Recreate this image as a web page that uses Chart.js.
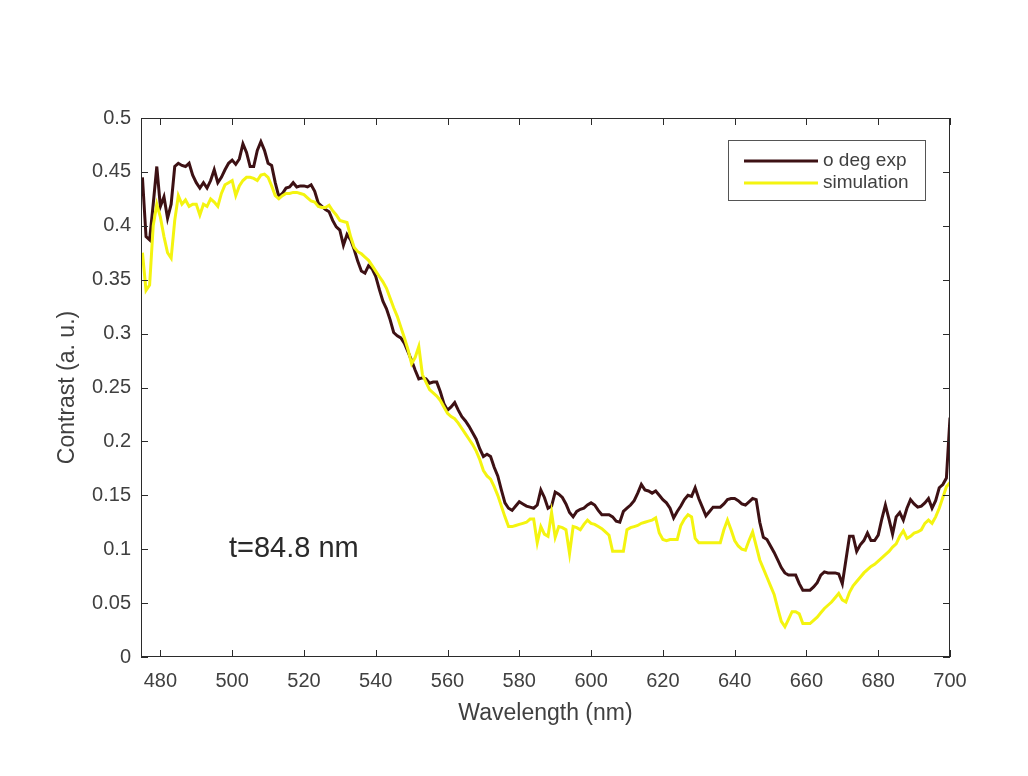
<!DOCTYPE html>
<html>
<head>
<meta charset="utf-8">
<script src="https://cdn.jsdelivr.net/npm/chart.js@4.4.1/dist/chart.umd.min.js"></script>
<style>
  html, body { margin: 0; padding: 0; background: #fff; }
  #wrap { position: relative; width: 1028px; height: 776px; }
</style>
</head>
<body>
<div id="wrap"><canvas id="c" width="1028" height="776"></canvas></div>
<script>
// wavelength grid (nm), 1 nm steps
const wavelengths = [
  475,476,477,478,479,480,481,482,483,484,
  485,486,487,488,489,490,491,492,493,494,
  495,496,497,498,499,500,501,502,503,504,
  505,506,507,508,509,510,511,512,513,514,
  515,516,517,518,519,520,521,522,523,524,
  525,526,527,528,529,530,531,532,533,534,
  535,536,537,538,539,540,541,542,543,544,
  545,546,547,548,549,550,551,552,553,554,
  555,556,557,558,559,560,561,562,563,564,
  565,566,567,568,569,570,571,572,573,574,
  575,576,577,578,579,580,581,582,583,584,
  585,586,587,588,589,590,591,592,593,594,
  595,596,597,598,599,600,601,602,603,604,
  605,606,607,608,609,610,611,612,613,614,
  615,616,617,618,619,620,621,622,623,624,
  625,626,627,628,629,630,631,632,633,634,
  635,636,637,638,639,640,641,642,643,644,
  645,646,647,648,649,650,651,652,653,654,
  655,656,657,658,659,660,661,662,663,664,
  665,666,667,668,669,670,671,672,673,674,
  675,676,677,678,679,680,681,682,683,684,
  685,686,687,688,689,690,691,692,693,694,
  695,696,697,698,699,700
];

// "o deg exp" measured contrast
const expContrast = [
  0.445,0.390,0.387,0.420,0.455,0.418,0.427,0.407,0.420,0.455,
  0.458,0.456,0.455,0.458,0.447,0.440,0.435,0.440,0.435,0.442,
  0.452,0.440,0.445,0.452,0.458,0.461,0.457,0.462,0.476,0.468,
  0.455,0.455,0.470,0.478,0.470,0.458,0.456,0.440,0.427,0.430,
  0.435,0.436,0.440,0.436,0.437,0.437,0.436,0.438,0.432,0.421,
  0.418,0.415,0.413,0.405,0.399,0.396,0.382,0.392,0.387,0.378,
  0.367,0.358,0.356,0.363,0.360,0.353,0.341,0.330,0.323,0.313,
  0.301,0.298,0.296,0.291,0.283,0.275,0.266,0.258,0.259,0.258,
  0.254,0.255,0.255,0.246,0.235,0.229,0.232,0.236,0.229,0.223,
  0.219,0.214,0.208,0.202,0.193,0.186,0.188,0.186,0.176,0.168,
  0.155,0.143,0.138,0.136,0.140,0.144,0.142,0.140,0.139,0.138,
  0.141,0.155,0.148,0.138,0.140,0.153,0.151,0.148,0.142,0.134,
  0.130,0.135,0.137,0.138,0.141,0.143,0.141,0.136,0.132,0.132,
  0.132,0.130,0.126,0.125,0.135,0.138,0.141,0.145,0.152,0.160,
  0.155,0.154,0.152,0.154,0.150,0.146,0.143,0.138,0.129,0.135,
  0.140,0.146,0.150,0.149,0.157,0.147,0.139,0.131,0.135,0.139,
  0.139,0.139,0.142,0.146,0.147,0.147,0.145,0.142,0.141,0.144,
  0.147,0.146,0.125,0.111,0.109,0.103,0.097,0.090,0.083,0.078,
  0.076,0.076,0.076,0.068,0.062,0.062,0.062,0.065,0.069,0.076,
  0.079,0.078,0.078,0.078,0.077,0.068,0.090,0.112,0.112,0.098,
  0.104,0.108,0.115,0.108,0.108,0.113,0.128,0.141,0.128,0.114,
  0.130,0.134,0.127,0.138,0.146,0.142,0.139,0.140,0.143,0.147,
  0.138,0.145,0.157,0.160,0.166,0.222
];

// simulated contrast
const simContrast = [
  0.375,0.340,0.345,0.400,0.420,0.408,0.390,0.375,0.370,0.405,
  0.428,0.420,0.424,0.418,0.420,0.420,0.410,0.420,0.418,0.425,
  0.422,0.418,0.430,0.438,0.440,0.442,0.428,0.437,0.442,0.445,
  0.445,0.444,0.442,0.447,0.448,0.445,0.437,0.428,0.425,0.428,
  0.430,0.430,0.431,0.431,0.430,0.429,0.426,0.423,0.422,0.418,
  0.417,0.417,0.419,0.414,0.410,0.405,0.404,0.403,0.390,0.380,
  0.376,0.374,0.371,0.368,0.363,0.358,0.353,0.348,0.342,0.333,
  0.324,0.316,0.306,0.296,0.285,0.272,0.278,0.288,0.262,0.255,
  0.248,0.245,0.242,0.238,0.232,0.226,0.223,0.221,0.217,0.212,
  0.207,0.202,0.197,0.191,0.183,0.173,0.168,0.165,0.158,0.150,
  0.140,0.130,0.121,0.121,0.122,0.123,0.124,0.125,0.128,0.128,
  0.106,0.121,0.114,0.112,0.134,0.111,0.121,0.120,0.118,0.096,
  0.121,0.120,0.118,0.123,0.127,0.124,0.123,0.121,0.119,0.116,
  0.113,0.098,0.098,0.098,0.098,0.118,0.120,0.121,0.122,0.124,
  0.125,0.126,0.127,0.129,0.115,0.109,0.108,0.109,0.109,0.109,
  0.122,0.128,0.132,0.130,0.110,0.106,0.106,0.106,0.106,0.106,
  0.106,0.106,0.118,0.127,0.118,0.108,0.103,0.100,0.099,0.108,
  0.116,0.103,0.090,0.082,0.074,0.066,0.058,0.045,0.033,0.028,
  0.035,0.042,0.042,0.040,0.031,0.031,0.031,0.034,0.037,0.041,
  0.045,0.048,0.051,0.055,0.059,0.053,0.051,0.060,0.066,0.070,
  0.074,0.078,0.081,0.084,0.086,0.089,0.092,0.095,0.098,0.102,
  0.105,0.112,0.117,0.110,0.112,0.115,0.116,0.118,0.124,0.127,
  0.124,0.130,0.138,0.148,0.158,0.162
];

const xTicks = [480, 500, 520, 540, 560, 580, 600, 620, 640, 660, 680, 700];
const yTicks = [0, 0.05, 0.1, 0.15, 0.2, 0.25, 0.3, 0.35, 0.4, 0.45, 0.5];
const yTickLabels = ["0", "0.05", "0.1", "0.15", "0.2", "0.25", "0.3", "0.35", "0.4", "0.45", "0.5"];

const FONT = "'Liberation Sans', Arial, sans-serif";
const TXT = "#404040";
const EXP_COLOR = "#3d1114";
const SIM_COLOR = "#f4f410";

// MATLAB-ish box with inward ticks, legend and the thickness note
const boxPlugin = {
  id: "box",
  afterDatasetsDraw(chart) {
    const { ctx, chartArea: a, scales } = chart;
    ctx.save();
    ctx.strokeStyle = "#2b2b2b";
    ctx.lineWidth = 1;
    ctx.strokeRect(a.left + 0.5, a.top + 0.5, a.right - a.left - 1, a.bottom - a.top - 1);
    ctx.beginPath();
    xTicks.forEach((v) => {
      const x = Math.round(scales.x.getPixelForValue(v)) + 0.5;
      ctx.moveTo(x, a.bottom); ctx.lineTo(x, a.bottom - 7);
      ctx.moveTo(x, a.top); ctx.lineTo(x, a.top + 7);
    });
    yTicks.forEach((v) => {
      const y = Math.round(scales.y.getPixelForValue(v)) + 0.5;
      ctx.moveTo(a.left, y); ctx.lineTo(a.left + 7, y);
      ctx.moveTo(a.right, y); ctx.lineTo(a.right - 7, y);
    });
    ctx.stroke();

    // legend
    const lx = 728, ly = 140, lw = 197, lh = 60;
    ctx.fillStyle = "#fff";
    ctx.fillRect(lx, ly, lw, lh);
    ctx.strokeStyle = "#555";
    ctx.strokeRect(lx + 0.5, ly + 0.5, lw, lh);
    ctx.font = "19px " + FONT;
    ctx.textBaseline = "middle";
    ctx.textAlign = "left";
    chart.data.datasets.forEach((ds, i) => {
      const yy = ly + 21 + i * 22;
      ctx.strokeStyle = ds.borderColor;
      ctx.lineWidth = 3;
      ctx.beginPath();
      ctx.moveTo(744, yy); ctx.lineTo(818, yy);
      ctx.stroke();
      ctx.fillStyle = TXT;
      ctx.fillText(ds.label, 823, yy);
    });

    ctx.font = "29px " + FONT;
    ctx.fillStyle = "#2a2a2a";
    ctx.fillText("t=84.8 nm", 229, 549);
    ctx.restore();
  },
};

new Chart(document.getElementById("c"), {
  type: "line",
  data: {
    datasets: [
      {
        label: "o deg exp",
        data: wavelengths.map((w, i) => ({ x: w, y: expContrast[i] })),
        borderColor: EXP_COLOR,
        borderWidth: 3,
        pointRadius: 0,
        tension: 0,
        order: 2,
      },
      {
        label: "simulation",
        data: wavelengths.map((w, i) => ({ x: w, y: simContrast[i] })),
        borderColor: SIM_COLOR,
        borderWidth: 3,
        pointRadius: 0,
        tension: 0,
        order: 1,
      },
    ],
  },
  options: {
    responsive: false,
    animation: false,
    layout: { padding: { top: 118, right: 78, left: 0, bottom: 0 } },
    plugins: { legend: { display: false }, tooltip: { enabled: false } },
    scales: {
      x: {
        type: "linear",
        min: 474.6,
        max: 700,
        afterBuildTicks: (s) => { s.ticks = xTicks.map((v) => ({ value: v })); },
        afterFit: (s) => { s.height = 119; },
        grid: { display: false, drawTicks: false },
        border: { display: false },
        ticks: { padding: 12, color: TXT, font: { family: FONT, size: 20 }, maxRotation: 0 },
        title: {
          display: true, text: "Wavelength (nm)", color: TXT,
          font: { family: FONT, size: 23 }, padding: { top: 0, bottom: 49 },
        },
      },
      y: {
        type: "linear",
        min: 0,
        max: 0.5,
        afterBuildTicks: (s) => { s.ticks = yTicks.map((v) => ({ value: v })); },
        afterFit: (s) => { s.width = 141; },
        grid: { display: false, drawTicks: false },
        border: { display: false },
        ticks: {
          padding: 10, color: TXT, font: { family: FONT, size: 20 },
          callback: (v, i) => yTickLabels[i],
        },
        title: {
          display: true, text: "Contrast (a. u.)", color: TXT,
          font: { family: FONT, size: 23 }, padding: { top: 54, bottom: 0 },
        },
      },
    },
  },
  plugins: [boxPlugin],
});
</script>
</body>
</html>
